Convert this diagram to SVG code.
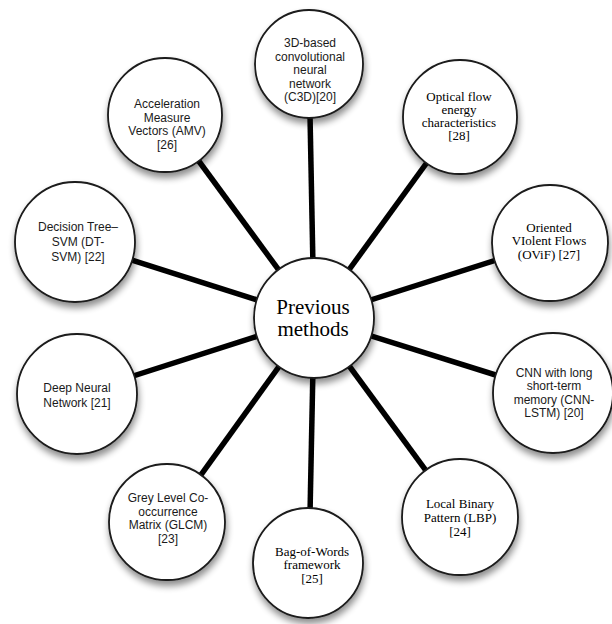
<svg xmlns="http://www.w3.org/2000/svg" width="612" height="624" viewBox="0 0 612 624">
<defs>
<filter id="sh" x="-30%" y="-30%" width="160%" height="170%">
<feGaussianBlur in="SourceAlpha" stdDeviation="3.5"/>
<feOffset dx="1" dy="5" result="b"/>
<feComponentTransfer><feFuncA type="linear" slope="0.45"/></feComponentTransfer>
<feMerge><feMergeNode/><feMergeNode in="SourceGraphic"/></feMerge>
</filter>
</defs>
<style>
.n{fill:#fff;stroke:#1a1a1a;stroke-width:1.8;filter:url(#sh)}
.c line{stroke:#000;stroke-width:5.5;stroke-linecap:butt}
.s{font-family:"Liberation Sans",Arial,sans-serif;font-size:12px;fill:#1a1a1a;text-anchor:middle}
.r{font-family:"Liberation Serif","Times New Roman",serif;font-size:13px;fill:#000;text-anchor:middle}
.m{font-family:"Liberation Serif","Times New Roman",serif;font-size:21px;fill:#000;text-anchor:middle}
</style>
<rect width="612" height="624" fill="#fff"/>
<g id="connectors" class="c">
<line x1="314" y1="318" x2="309" y2="64"/>
<line x1="314" y1="318" x2="460" y2="117"/>
<line x1="314" y1="318" x2="550" y2="243"/>
<line x1="314" y1="318" x2="553" y2="393"/>
<line x1="314" y1="318" x2="460" y2="517"/>
<line x1="314" y1="318" x2="309" y2="563"/>
<line x1="314" y1="318" x2="167" y2="522"/>
<line x1="314" y1="318" x2="77" y2="394"/>
<line x1="314" y1="318" x2="75" y2="242"/>
<line x1="314" y1="318" x2="165" y2="115"/>
</g>
<g id="n-c3d">
<circle class="n" cx="309" cy="64" r="54"/>
<text class="s" x="310" y="47">3D-based</text>
<text class="s" x="310" y="61">convolutional</text>
<text class="s" x="310" y="74">neural</text>
<text class="s" x="310" y="88">network</text>
<text class="s" x="310" y="101">(C3D)[20]</text>
</g>
<g id="n-optical">
<circle class="n" cx="460" cy="117" r="57"/>
<text class="r" x="459" y="101">Optical flow</text>
<text class="r" x="459" y="114">energy</text>
<text class="r" x="459" y="127">characteristics</text>
<text class="r" x="459" y="140">[28]</text>
</g>
<g id="n-ovif">
<circle class="n" cx="550" cy="243" r="58"/>
<text class="r" x="549" y="232">Oriented</text>
<text class="r" x="549" y="245">VIolent Flows</text>
<text class="r" x="549" y="259">(OViF) [27]</text>
</g>
<g id="n-cnnlstm">
<circle class="n" cx="553" cy="393" r="60"/>
<text class="s" x="554" y="377">CNN with long</text>
<text class="s" x="554" y="390">short-term</text>
<text class="s" x="554" y="404">memory (CNN-</text>
<text class="s" x="554" y="417">LSTM) [20]</text>
</g>
<g id="n-lbp">
<circle class="n" cx="460" cy="517" r="58"/>
<text class="r" x="460" y="508">Local Binary</text>
<text class="r" x="460" y="522">Pattern (LBP)</text>
<text class="r" x="460" y="536">[24]</text>
</g>
<g id="n-bow">
<circle class="n" cx="308" cy="563" r="55"/>
<text class="r" x="312" y="556">Bag-of-Words</text>
<text class="r" x="312" y="569">framework</text>
<text class="r" x="312" y="583">[25]</text>
</g>
<g id="n-glcm">
<circle class="n" cx="167" cy="522" r="58"/>
<text class="s" x="168" y="502">Grey Level Co-</text>
<text class="s" x="168" y="516">occurrence</text>
<text class="s" x="168" y="529">Matrix (GLCM)</text>
<text class="s" x="168" y="543">[23]</text>
</g>
<g id="n-dnn">
<circle class="n" cx="77" cy="394" r="60"/>
<text class="s" x="77" y="392">Deep Neural</text>
<text class="s" x="77" y="407">Network [21]</text>
</g>
<g id="n-dtsvm">
<circle class="n" cx="75" cy="242" r="60"/>
<text class="s" x="78" y="231">Decision Tree–</text>
<text class="s" x="78" y="246">SVM (DT-</text>
<text class="s" x="78" y="261">SVM) [22]</text>
</g>
<g id="n-amv">
<circle class="n" cx="165" cy="115" r="57"/>
<text class="s" x="167" y="108">Acceleration</text>
<text class="s" x="167" y="122">Measure</text>
<text class="s" x="167" y="135">Vectors (AMV)</text>
<text class="s" x="167" y="149">[26]</text>
</g>
<g id="n-center">
<circle class="n" cx="314" cy="318" r="60"/>
<text class="m" x="313" y="314">Previous</text>
<text class="m" x="313" y="336">methods</text>
</g>
</svg>
